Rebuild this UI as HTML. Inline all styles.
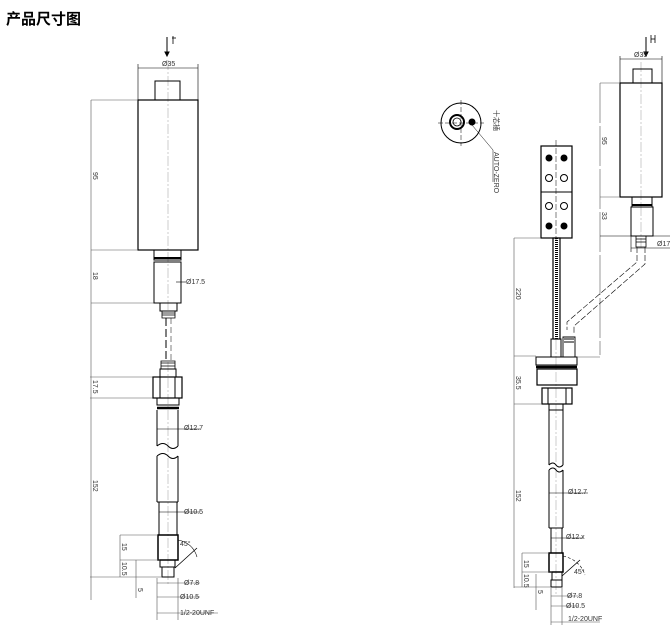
<!DOCTYPE html>
<html><head><meta charset="utf-8"><style>
html,body{margin:0;padding:0;background:#fff;width:670px;height:636px;overflow:hidden}
svg{display:block}
text{font-family:"Liberation Sans",sans-serif;font-size:7px;fill:#333}
</style></head><body>
<svg width="670" height="636" viewBox="0 0 670 636" xmlns="http://www.w3.org/2000/svg">
<text x="6" y="24" style="font-family:'Liberation Sans','Noto Sans CJK SC',sans-serif;font-size:15px;font-weight:bold;fill:#000">产品尺寸图</text>
<g stroke="#999" fill="none" stroke-width="0.5" stroke-dasharray="10 2 2 2">
<line x1="168" y1="60" x2="168" y2="312"/>
<line x1="168" y1="362" x2="168" y2="585"/>
<line x1="641" y1="62" x2="641" y2="250"/>
<line x1="556" y1="340" x2="556" y2="595"/>
</g>
<g stroke="#000" fill="none" stroke-width="1">
<!-- LEFT -->
<line x1="167" y1="37" x2="167" y2="55"/><path d="M165 52 L167 56 L169 52Z" fill="#000"/>
<line x1="172" y1="38" x2="176" y2="38" stroke-width="0.8"/><line x1="173" y1="36" x2="173" y2="44" stroke-width="0.8"/>
<line x1="138" y1="68" x2="198" y2="68" stroke-width="0.6"/>
<line x1="138" y1="64" x2="138" y2="100" stroke-width="0.6"/><line x1="198" y1="64" x2="198" y2="100" stroke-width="0.6"/>
<rect x="155" y="81" width="25" height="19"/>
<rect x="138" y="100" width="60" height="150" stroke-width="1.2"/>
<g stroke="#555" stroke-width="0.6">
<line x1="91" y1="100" x2="138" y2="100"/><line x1="91" y1="100" x2="91" y2="600"/>
<line x1="91" y1="250" x2="138" y2="250"/>
<line x1="91" y1="303" x2="154" y2="303"/>
<line x1="90" y1="377" x2="153" y2="377"/><line x1="90" y1="398" x2="153" y2="398"/>
</g>
<rect x="154" y="250" width="27" height="10"/><line x1="154" y1="258" x2="181" y2="258" stroke-width="2"/>
<rect x="154" y="262" width="27" height="41"/>
<line x1="176" y1="282" x2="186" y2="282" stroke-width="0.6"/>
<rect x="160" y="303" width="17" height="8"/>
<path d="M162 311 L175 311 L175 318 L162 318Z M162 313 H175 M162 315 H175" stroke-width="0.8"/>
<line x1="166" y1="318" x2="166" y2="362" stroke-dasharray="8 3"/>
<line x1="171" y1="318" x2="171" y2="360" stroke-dasharray="6 3" stroke-width="0.5"/>
<path d="M161 361 H175 V369 H161Z M161 363 H175 M161 366 H175" stroke-width="0.8"/>
<rect x="160" y="369" width="16" height="8"/>
<rect x="153" y="377" width="29" height="21" stroke-width="1.2"/><line x1="160" y1="377" x2="160" y2="398"/><line x1="175" y1="377" x2="175" y2="398"/>
<rect x="157" y="398" width="22" height="7"/><line x1="157" y1="408" x2="179" y2="408" stroke-width="2.5"/>
<path d="M157 410 V446 M178 410 V446 M157 446 Q163 441 168 446 Q173 451 178 446"/>
<line x1="157" y1="429" x2="200" y2="429" stroke-width="0.6"/>
<path d="M157 456 Q163 451 168 456 Q173 461 178 456 M157 456 V502 M178 456 V502 M157 502 H178"/>
<rect x="159" y="502" width="18" height="33"/><line x1="159" y1="512" x2="200" y2="512" stroke-width="0.6"/>
<rect x="158" y="535" width="20" height="25" stroke-width="1.5"/>
<rect x="160" y="560" width="15" height="7"/><rect x="162" y="567" width="12" height="10"/>
<g stroke="#555" stroke-width="0.6">
<line x1="90" y1="577" x2="162" y2="577"/>
<line x1="120" y1="535" x2="158" y2="535"/><line x1="120" y1="535" x2="120" y2="577"/>
<line x1="120" y1="560" x2="160" y2="560"/>
<line x1="136" y1="560" x2="136" y2="598"/>
<line x1="157" y1="578" x2="157" y2="620"/><line x1="178" y1="578" x2="178" y2="620"/>
<line x1="157" y1="583" x2="200" y2="583"/><line x1="157" y1="597" x2="200" y2="597"/><line x1="157" y1="613" x2="218" y2="613"/>
</g>
<line x1="175" y1="568" x2="197" y2="548" stroke-width="0.8"/>
<path d="M178 540 Q193 543 197 557" stroke-width="0.6"/>
<!-- connector circle -->
<circle cx="461" cy="123" r="20"/>
<circle cx="457" cy="122" r="7" stroke-width="2"/><circle cx="457" cy="122" r="4" stroke-width="0.8"/>
<circle cx="472" cy="122" r="3" fill="#000"/>
<line x1="461" y1="100" x2="461" y2="146" stroke-width="0.5" stroke-dasharray="5 2"/><line x1="438" y1="123" x2="484" y2="123" stroke-width="0.5" stroke-dasharray="5 2"/>
<line x1="472" y1="125" x2="493" y2="150" stroke-width="0.5"/><line x1="493" y1="150" x2="493" y2="182" stroke-width="0.5"/>
<!-- terminal block -->
<rect x="541" y="146" width="31" height="92" stroke-width="1.2"/><line x1="541" y1="192" x2="572" y2="192"/>
<line x1="556" y1="140" x2="556" y2="240" stroke-width="0.5" stroke-dasharray="6 2"/>
<circle cx="549" cy="158" r="3" fill="#000"/><circle cx="564" cy="158" r="3" fill="#000"/>
<circle cx="549" cy="178" r="3.5"/><circle cx="564" cy="178" r="3.5"/>
<circle cx="549" cy="206" r="3.5"/><circle cx="564" cy="206" r="3.5"/>
<circle cx="549" cy="226" r="3" fill="#000"/><circle cx="564" cy="226" r="3" fill="#000"/>
<line x1="514" y1="238" x2="541" y2="238" stroke-width="0.6" stroke="#555"/><line x1="514" y1="238" x2="514" y2="588" stroke-width="0.6" stroke="#555"/>
<rect x="553" y="238" width="7" height="101" stroke-width="1.2"/>
<line x1="556.5" y1="238" x2="556.5" y2="339" stroke-width="3" stroke-dasharray="1 1"/>
<!-- right sensor top -->
<line x1="646" y1="37" x2="646" y2="55"/><path d="M644 52 L646 56 L648 52Z" fill="#000"/>
<line x1="651" y1="35" x2="651" y2="43" stroke-width="0.8"/><line x1="655" y1="35" x2="655" y2="43" stroke-width="0.8"/><line x1="651" y1="39" x2="655" y2="39" stroke-width="0.8"/>
<line x1="620" y1="59" x2="662" y2="59" stroke-width="0.6"/>
<line x1="620" y1="56" x2="620" y2="83" stroke-width="0.6"/><line x1="662" y1="56" x2="662" y2="83" stroke-width="0.6"/>
<rect x="633" y="69" width="19" height="14"/>
<rect x="620" y="83" width="42" height="114" stroke-width="1.2"/>
<line x1="600" y1="83" x2="620" y2="83" stroke-width="0.6" stroke="#555"/><line x1="600" y1="83" x2="600" y2="355" stroke-width="0.6" stroke="#555" stroke-dasharray="40 3"/>
<line x1="600" y1="197" x2="620" y2="197" stroke-width="0.6" stroke="#555"/>
<rect x="632" y="197" width="20" height="10"/><line x1="632" y1="205" x2="652" y2="205" stroke-width="2"/>
<rect x="631" y="207" width="22" height="29"/>
<line x1="600" y1="236" x2="670" y2="236" stroke-width="0.6"/>
<path d="M636 236 H646 V247 H636Z M636 239 H646 M636 242 H646" stroke-width="0.8"/>
<line x1="631" y1="236" x2="631" y2="252" stroke-width="0.6"/><line x1="631" y1="248" x2="670" y2="248" stroke-width="0.6"/>
<path d="M637 247 V262 L567 322 V330" stroke-width="0.6" stroke-dasharray="6 2"/>
<path d="M645 247 V264 L574 326 V333" stroke-width="0.6" stroke-dasharray="6 2"/>
<!-- right lower -->
<rect x="551" y="339" width="10" height="18"/>
<path d="M563 337 H575 V357 H563Z M564 339 H574 M564 342 H574" stroke-width="0.9"/>
<rect x="536" y="357" width="41" height="8"/><line x1="536" y1="367" x2="577" y2="367" stroke-width="2.5"/>
<rect x="537" y="369" width="40" height="16" stroke-width="1.2"/>
<rect x="542" y="388" width="30" height="16" stroke-width="1.2"/><line x1="548" y1="388" x2="548" y2="404"/><line x1="566" y1="388" x2="566" y2="404"/>
<g stroke="#555" stroke-width="0.6">
<line x1="514" y1="356" x2="536" y2="356"/><line x1="514" y1="404" x2="542" y2="404"/>
<line x1="600" y1="357" x2="577" y2="357"/>
</g>
<path d="M549 404 V465 M563 404 V465 M549 465 Q553 461 556 465 Q559 469 563 465 M549 410 H563"/>
<path d="M549 470 Q553 466 556 470 Q559 474 563 470 M549 470 V528 M563 470 V528 M549 528 H563"/>
<line x1="549" y1="493" x2="588" y2="493" stroke-width="0.6"/>
<rect x="551" y="528" width="11" height="25"/><line x1="551" y1="538" x2="583" y2="538" stroke-width="0.6"/>
<rect x="549" y="553" width="14" height="19" stroke-width="1.5"/>
<rect x="552" y="572" width="10" height="8"/><rect x="551" y="580" width="11" height="7"/>
<g stroke="#555" stroke-width="0.6">
<line x1="514" y1="587" x2="551" y2="587"/>
<line x1="522" y1="553" x2="549" y2="553"/><line x1="522" y1="553" x2="522" y2="587"/>
<line x1="522" y1="572" x2="552" y2="572"/>
<line x1="536" y1="574" x2="536" y2="610"/>
<line x1="551" y1="588" x2="551" y2="625"/><line x1="562" y1="588" x2="562" y2="625"/>
<line x1="551" y1="596" x2="578" y2="596"/><line x1="551" y1="606" x2="578" y2="606"/><line x1="551" y1="622" x2="600" y2="622"/>
</g>
<line x1="562" y1="576" x2="580" y2="560" stroke-width="0.8"/>
<path d="M563 556 Q580 560 585 575" stroke-width="0.6" stroke-dasharray="3 2"/>
</g>
<g>
<text x="162" y="66">Ø35</text>
<text transform="translate(93,172) rotate(90)">95</text>
<text x="186" y="284">Ø17.5</text>
<text transform="translate(93,272) rotate(90)">18</text>
<text transform="translate(93,380) rotate(90)">17.5</text>
<text x="184" y="430">Ø12.7</text>
<text transform="translate(93,480) rotate(90)">152</text>
<text x="184" y="514">Ø10.5</text>
<text transform="translate(122,543) rotate(90)">15</text>
<text transform="translate(122,562) rotate(90)">10.5</text>
<text transform="translate(138,588) rotate(90)">5</text>
<text x="180" y="546">45°</text>
<text x="184" y="585">Ø7.8</text>
<text x="180" y="599">Ø10.5</text>
<text x="180" y="615">1/2-20UNF</text>
<text x="634" y="57">Ø35</text>
<text transform="translate(602,137) rotate(90)">95</text>
<text transform="translate(602,212) rotate(90)">33</text>
<text x="657" y="246">Ø17</text>
<text transform="translate(516,288) rotate(90)">220</text>
<text transform="translate(516,376) rotate(90)">35.5</text>
<text transform="translate(516,490) rotate(90)">152</text>
<text x="568" y="494">Ø12.7</text>
<text x="566" y="539">Ø12.x</text>
<text transform="translate(524,560) rotate(90)">15</text>
<text transform="translate(524,574) rotate(90)">10.5</text>
<text transform="translate(538,590) rotate(90)">5</text>
<text x="574" y="574">45°</text>
<text x="567" y="598">Ø7.8</text>
<text x="566" y="608">Ø10.5</text>
<text x="568" y="621">1/2-20UNF</text>
<text transform="translate(494,110) rotate(90)" style="font-family:'Liberation Sans','Noto Sans CJK SC',sans-serif;font-size:7px">十芯插</text>
<text transform="translate(494,152) rotate(90)">AUTO-ZERO</text>
</g>
</svg>
</body></html>
